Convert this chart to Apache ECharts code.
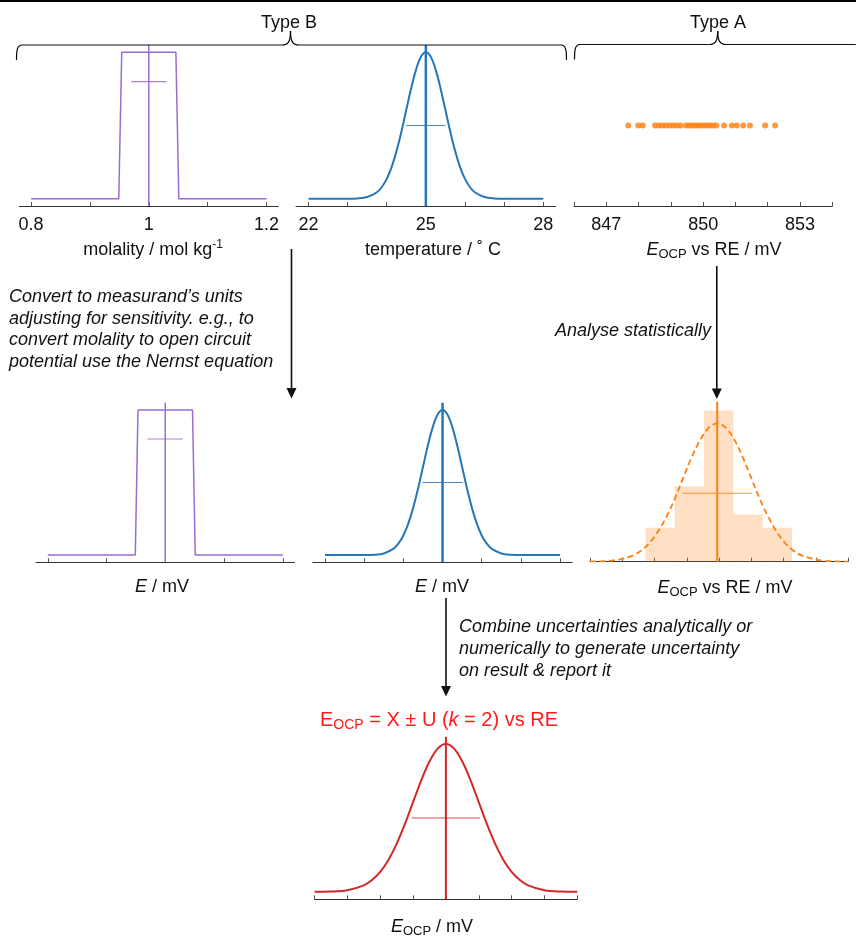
<!DOCTYPE html>
<html><head><meta charset="utf-8">
<script src="https://cdn.jsdelivr.net/npm/echarts@6/dist/echarts.min.js"></script>
<style>html,body{margin:0;padding:0;background:#fff}#c{width:856px;height:938px}</style>
</head><body><div id="c"></div>
<script>
// ---------- Panel 1: molality (rectangular, Type B) ----------
const molalityX = [0.8, 0.949, 0.954, 1.046, 1.051, 1.2];
const molalityDensity = [0, 0, 1, 1, 0, 0];
const molalityMean = 1.0;
const molalityHalfWidth = 0.03;
const molalityBarLevel = 0.8;
const molalityTicks = [0.8, 0.9, 1.0, 1.1, 1.2];
const molalityTickLabels = [0.8, 1.0, 1.2];

// ---------- Panel 2: temperature (normal, Type B) ----------
const temperatureX = [22, 23, 23.25, 23.5, 23.75, 23.875, 24, 24.125, 24.25, 24.375, 24.5, 24.625, 24.75, 24.875, 25,
  25.125, 25.25, 25.375, 25.5, 25.625, 25.75, 25.875, 26, 26.125, 26.25, 26.5, 26.75, 27, 28];
const temperatureDensity = [0, 0.0003, 0.002, 0.011, 0.044, 0.080, 0.135, 0.216, 0.325, 0.458, 0.607, 0.755, 0.882, 0.969, 1,
  0.969, 0.882, 0.755, 0.607, 0.458, 0.325, 0.216, 0.135, 0.080, 0.044, 0.011, 0.002, 0.0003, 0];
const temperatureMean = 25;
const temperatureSD = 0.5;
const temperatureBarLevel = 0.5;
const temperatureTicks = [22, 23, 24, 25, 26, 27, 28];
const temperatureTickLabels = [22, 25, 28];

// ---------- Panel 3: repeated OCP readings (Type A) ----------
const ocpReadings = [847.68, 847.99, 848.13, 848.51, 848.62, 848.73, 848.84, 848.97, 849.08, 849.19, 849.30,
  849.47, 849.56, 849.66, 849.75, 849.84, 849.93, 850.03, 850.12, 850.21, 850.31, 850.41,
  850.65, 850.89, 851.04, 851.24, 851.45, 851.92, 852.23];
const ocpReadingLevel = 0.5;
const ocpTicks = [846, 847, 848, 849, 850, 851, 852, 853, 854];
const ocpTickLabels = [847, 850, 853];

// ---------- Panel 4: E from molality ----------
const eMolalityX = [-2, -0.51, -0.464, 0.464, 0.51, 2];
const eMolalityDensity = [0, 0, 1, 1, 0, 0];
const eMolalityMean = 0;
const eMolalityHalfWidth = 0.3;
const eMolalityBarLevel = 0.8;
const eMolalityTicks = [-2, -1, 0, 1, 2];

// ---------- Panel 5: E from temperature ----------
const eTemperatureX = [-3, -2, -1.75, -1.5, -1.25, -1.125, -1, -0.875, -0.75, -0.625, -0.5, -0.375, -0.25, -0.125, 0,
  0.125, 0.25, 0.375, 0.5, 0.625, 0.75, 0.875, 1, 1.125, 1.25, 1.5, 1.75, 2, 3];
const eTemperatureDensity = [0, 0.0003, 0.002, 0.011, 0.044, 0.080, 0.135, 0.216, 0.325, 0.458, 0.607, 0.755, 0.882, 0.969, 1,
  0.969, 0.882, 0.755, 0.607, 0.458, 0.325, 0.216, 0.135, 0.080, 0.044, 0.011, 0.002, 0.0003, 0];
const eTemperatureMean = 0;
const eTemperatureSD = 0.515;
const eTemperatureBarLevel = 0.5;
const eTemperatureTicks = [-3, -2, -1, 0, 1, 2, 3];

// ---------- Panel 6: histogram of OCP readings + fitted normal ----------
const histBinLow = [847.72, 848.62, 849.53, 850.44, 851.35];
const histBinHigh = [848.62, 849.53, 850.44, 851.35, 852.26];
const histHeights = [0.2125, 0.47, 0.945, 0.295, 0.2125];
const ocpFitX = [846, 846.27, 846.79, 847.32, 847.58, 847.84, 848.10, 848.37, 848.63, 848.89, 849.15, 849.42, 849.68, 849.94,
  850.20, 850.47, 850.73, 850.99, 851.25, 851.52, 851.78, 852.04, 852.30, 852.57, 853.09, 853.62, 854];
const ocpFitDensity = [0.0008, 0.002, 0.010, 0.038, 0.069, 0.117, 0.187, 0.281, 0.396, 0.525, 0.653, 0.763, 0.838, 0.865,
  0.838, 0.763, 0.653, 0.525, 0.396, 0.281, 0.187, 0.117, 0.069, 0.038, 0.010, 0.002, 0.0005];
const ocpMean = 849.94;
const ocpSD = 1.07;
const ocpBarLevel = 0.4275;

// ---------- Panel 7: combined result ----------
const resultX = [-4, -3.5, -3, -2.5, -2.25, -2, -1.75, -1.5, -1.25, -1, -0.75, -0.5, -0.25, 0,
  0.25, 0.5, 0.75, 1, 1.25, 1.5, 1.75, 2, 2.25, 2.5, 3, 3.5, 4];
const resultDensity = [0.0003, 0.002, 0.011, 0.044, 0.080, 0.135, 0.216, 0.325, 0.458, 0.607, 0.755, 0.882, 0.969, 1,
  0.969, 0.882, 0.755, 0.607, 0.458, 0.325, 0.216, 0.135, 0.080, 0.044, 0.011, 0.002, 0.0003];
const resultMean = 0;
const resultU = 1.04;
const resultBarLevel = 0.5;
const resultTicks = [-4, -3, -2, -1, 0, 1, 2, 3, 4];

// ---------- styling / layout ----------
const FONT = '"Liberation Sans", Arial, Helvetica, sans-serif';
const PURPLE = '#9b6cd3', BLUE = '#2677b8', ORANGE = '#ff7f0e', RED = '#d62728';
const Y_LO = -0.05, Y_HI = 1.05;

const grids = [
  {left: 19.3, top: 45, width: 259, height: 161},
  {left: 296, top: 45, width: 259.7, height: 161},
  {left: 574, top: 45, width: 258.3, height: 161},
  {left: 36, top: 402.7, width: 258.5, height: 159.6},
  {left: 312.9, top: 402.7, width: 259.3, height: 159.6},
  {left: 590, top: 401.7, width: 258.3, height: 160},
  {left: 314.5, top: 736.7, width: 262.8, height: 162.6}
].map(g => Object.assign({containLabel: false, outerBoundsMode: 'none'}, g));

function xAx(gi, min, max, ticks, labels) {
  return {
    type: 'value', gridIndex: gi, min: min, max: max,
    axisLine: {show: true, onZero: false, lineStyle: {color: '#333', width: 1}},
    axisTick: {show: true, inside: true, length: 4, customValues: ticks, lineStyle: {color: '#555', width: 1}},
    axisLabel: {show: !!labels, customValues: labels || [], fontSize: 18, color: '#111', margin: 10, fontFamily: FONT},
    splitLine: {show: false}
  };
}
function yAx(gi, min, max) {
  return {type: 'value', gridIndex: gi, min: min, max: max, show: false, splitLine: {show: false}};
}
const zip = (xs, ys) => xs.map((x, i) => [x, ys[i]]);

function curve(gi, xs, ys, color, width, extra) {
  return Object.assign({
    type: 'line', xAxisIndex: gi, yAxisIndex: gi, data: zip(xs, ys), symbol: 'none', smooth: false,
    lineStyle: {color: color, width: width}, silent: true, z: 3
  }, extra || {});
}
function centreLine(gi, x, lo, hi, color, width) {
  return {type: 'line', xAxisIndex: gi, yAxisIndex: gi, data: [[x, lo], [x, hi]], symbol: 'none',
    lineStyle: {color: color, width: width}, silent: true, z: 4};
}
function crossBar(gi, x, hw, level, color) {
  return {type: 'line', xAxisIndex: gi, yAxisIndex: gi, data: [[x - hw, level], [x + hw, level]], symbol: 'none',
    lineStyle: {color: color, width: 1.1, opacity: 0.85}, silent: true, z: 4};
}

const series = [
  // panel 1
  curve(0, molalityX, molalityDensity, PURPLE, 1.5),
  centreLine(0, molalityMean, Y_LO, Y_HI, PURPLE, 1.5),
  crossBar(0, molalityMean, molalityHalfWidth, molalityBarLevel, PURPLE),
  // panel 2
  curve(1, temperatureX, temperatureDensity, BLUE, 2, {smooth: 0.35}),
  centreLine(1, temperatureMean, Y_LO, Y_HI, BLUE, 2.5),
  crossBar(1, temperatureMean, temperatureSD, temperatureBarLevel, BLUE),
  // panel 3
  {type: 'scatter', xAxisIndex: 2, yAxisIndex: 2, data: ocpReadings.map(v => [v, ocpReadingLevel]),
   symbol: 'circle', symbolSize: 6, itemStyle: {color: ORANGE}, silent: true},
  // panel 4
  curve(3, eMolalityX, eMolalityDensity, PURPLE, 1.5),
  centreLine(3, eMolalityMean, Y_LO, Y_HI, PURPLE, 1.5),
  crossBar(3, eMolalityMean, eMolalityHalfWidth, eMolalityBarLevel, PURPLE),
  // panel 5
  curve(4, eTemperatureX, eTemperatureDensity, BLUE, 2, {smooth: 0.35}),
  centreLine(4, eTemperatureMean, Y_LO, Y_HI, BLUE, 2.5),
  crossBar(4, eTemperatureMean, eTemperatureSD, eTemperatureBarLevel, BLUE),
  // panel 6
  {type: 'custom', xAxisIndex: 5, yAxisIndex: 5, silent: true, z: 2,
   data: histHeights.map((h, i) => [histBinLow[i], histBinHigh[i], h]),
   encode: {x: [0, 1], y: 2},
   renderItem: function (params, api) {
     const p0 = api.coord([api.value(0), api.value(2)]);
     const p1 = api.coord([api.value(1), 0]);
     return {type: 'rect', shape: {x: p0[0], y: p0[1], width: p1[0] - p0[0], height: p1[1] - p0[1]},
       style: {fill: 'rgba(255,127,14,0.24)'}};
   }},
  curve(5, ocpFitX, ocpFitDensity, ORANGE, 1.8, {smooth: 0.35, lineStyle: {color: ORANGE, width: 1.8, type: [6, 3.5]}}),
  centreLine(5, ocpMean, 0, 1, ORANGE, 2),
  crossBar(5, ocpMean, ocpSD, ocpBarLevel, ORANGE),
  // panel 7
  curve(6, resultX, resultDensity, RED, 2, {smooth: 0.35}),
  centreLine(6, resultMean, Y_LO, Y_HI, RED, 2),
  crossBar(6, resultMean, resultU, resultBarLevel, RED)
];

// ---------- annotations ----------
function txt(x, y, text, extra) {
  return {type: 'text', x: x, y: y, z: 10, silent: true,
    style: Object.assign({text: text, fill: '#111', font: '18px ' + FONT, align: 'center', verticalAlign: 'middle',
      textAlign: 'center', textVerticalAlign: 'middle'}, extra || {})};
}
function richTxt(x, y, text, size, color) {
  const sub = Math.round(size * 0.7);
  return {type: 'text', x: x, y: y, z: 10, silent: true,
    style: {text: text, align: 'center', verticalAlign: 'middle', textAlign: 'center', textVerticalAlign: 'middle',
      fill: color, font: size + 'px ' + FONT,
      rich: {
        n: {fontSize: size, fontFamily: FONT, fill: color, lineHeight: size + 4},
        i: {fontSize: size, fontFamily: FONT, fontStyle: 'italic', fill: color, lineHeight: size + 4},
        s: {fontSize: sub, fontFamily: FONT, fill: color, lineHeight: sub, verticalAlign: 'bottom'},
        p: {fontSize: sub - 1, fontFamily: FONT, fill: color, lineHeight: sub - 1, verticalAlign: 'top'}
      }}};
}
function bez(x1, y1, cx1, cy1, cx2, cy2, x2, y2) {
  return {type: 'bezierCurve', silent: true, z: 10,
    shape: {x1: x1, y1: y1, cpx1: cx1, cpy1: cy1, cpx2: cx2, cpy2: cy2, x2: x2, y2: y2},
    style: {stroke: '#000', lineWidth: 1.2, fill: null}};
}
function seg(x1, y1, x2, y2, w) {
  return {type: 'line', silent: true, z: 10, shape: {x1: x1, y1: y1, x2: x2, y2: y2},
    style: {stroke: '#111', lineWidth: w || 1.2}};
}
function brace(xl, xt, xr, yl, yt) {
  return [
    bez(xl, yl + 15, xl, yl + 4, xl + 1, yl, xl + 5.5, yl),
    seg(xl + 5.5, yl, xt - 8.5, yl),
    bez(xt - 8.5, yl, xt - 2.5, yl, xt, yl - 3, xt, yt),
    bez(xt, yt, xt, yl - 3, xt + 2.5, yl, xt + 8.5, yl),
    seg(xt + 8.5, yl, xr - 5.5, yl),
    bez(xr - 5.5, yl, xr - 1, yl, xr, yl + 4, xr, yl + 15)
  ];
}
function arrow(x, y1, y2) {
  return [
    seg(x, y1, x, y2 - 8, 1.6),
    {type: 'polygon', silent: true, z: 10, shape: {points: [[x - 5, y2 - 10.5], [x + 5, y2 - 10.5], [x, y2]]},
     style: {fill: '#111'}}
  ];
}

const graphics = [
  {type: 'rect', silent: true, shape: {x: 0, y: 0, width: 856, height: 2}, style: {fill: '#000'}},
  txt(289, 23.5, 'Type B'),
  txt(718, 23.5, 'Type A'),
  ...brace(16.5, 290.5, 566.5, 45, 31),
  ...brace(574.5, 717.7, 861, 44.5, 31),
  richTxt(153, 250, '{n|molality / mol kg}{p|-1}', 18, '#111'),
  txt(433, 250, 'temperature / \u02DA C'),
  richTxt(714, 250, '{i|E}{s|OCP}{n| vs RE / mV}', 18, '#111'),
  richTxt(162, 587, '{i|E}{n| / mV}', 18, '#111'),
  richTxt(442, 587, '{i|E}{n| / mV}', 18, '#111'),
  richTxt(725, 588, '{i|E}{s|OCP}{n| vs RE / mV}', 18, '#111'),
  richTxt(432, 927, '{i|E}{s|OCP}{n| / mV}', 18, '#111'),
  richTxt(439, 720, '{n|E}{s|OCP}{n| = X \u00B1 U (}{i|k}{n| = 2) vs RE}', 20, '#ff1a1a'),
  {type: 'text', x: 9, y: 286.5, z: 10, silent: true,
   style: {text: 'Convert to measurand\u2019s units\nadjusting for sensitivity. e.g., to\nconvert molality to open circuit\npotential use the Nernst equation',
     font: 'italic 18px ' + FONT, fill: '#111', lineHeight: 21.5, align: 'left', verticalAlign: 'top',
     textAlign: 'left', textVerticalAlign: 'top'}},
  {type: 'text', x: 711, y: 331, z: 10, silent: true,
   style: {text: 'Analyse statistically', font: 'italic 18px ' + FONT, fill: '#111', align: 'right', verticalAlign: 'middle',
     textAlign: 'right', textVerticalAlign: 'middle'}},
  {type: 'text', x: 459, y: 616.5, z: 10, silent: true,
   style: {text: 'Combine uncertainties analytically or\nnumerically to generate uncertainty\non result & report it',
     font: 'italic 18px ' + FONT, fill: '#111', lineHeight: 21.8, align: 'left', verticalAlign: 'top',
     textAlign: 'left', textVerticalAlign: 'top'}},
  ...arrow(291.5, 249, 398.5),
  ...arrow(716.8, 266, 399),
  ...arrow(446, 598, 696.5)
];

const chart = echarts.init(document.getElementById('c'), null, {renderer: 'canvas'});
chart.setOption({
  animation: false,
  backgroundColor: '#fff',
  textStyle: {fontFamily: FONT},
  grid: grids,
  xAxis: [
    xAx(0, 0.78, 1.22, molalityTicks, molalityTickLabels),
    xAx(1, 21.68, 28.32, temperatureTicks, temperatureTickLabels),
    xAx(2, 846, 854, ocpTicks, ocpTickLabels),
    xAx(3, -2.2, 2.2, eMolalityTicks, null),
    xAx(4, -3.31, 3.31, eTemperatureTicks, null),
    xAx(5, 846, 854, ocpTicks, null),
    xAx(6, -4, 4, resultTicks, null)
  ],
  yAxis: [yAx(0, Y_LO, Y_HI), yAx(1, Y_LO, Y_HI), yAx(2, Y_LO, Y_HI), yAx(3, Y_LO, Y_HI),
          yAx(4, Y_LO, Y_HI), yAx(5, 0, 1), yAx(6, Y_LO, Y_HI)],
  series: series,
  graphic: {elements: graphics}
});
</script></body></html>
